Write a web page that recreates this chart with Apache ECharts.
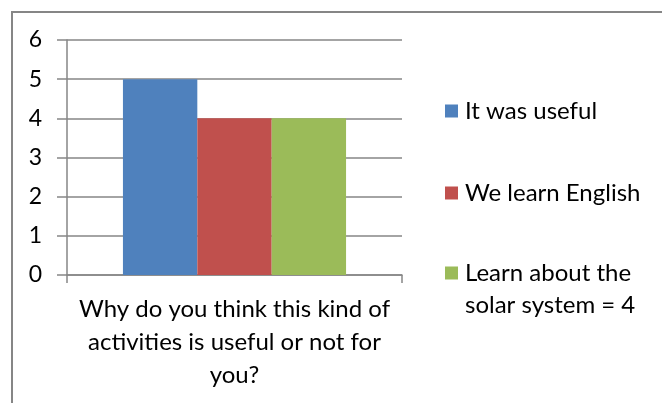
<!DOCTYPE html>
<html><head><meta charset="utf-8">
<script src="https://cdn.jsdelivr.net/npm/echarts@6/dist/echarts.min.js"></script>
<style>html,body{margin:0;padding:0;background:#fff}#c{width:662px;height:403px}</style>
</head><body><div id="c"></div>
<script>
const categories = ["Why do you think this kind of\nactivities is useful or not for\nyou?"];
const seriesNames = ["It was useful", "We learn English", "Learn about the solar system = 4"];
const seriesValues = [[5], [4], [4]];
const yTicks = [0, 1, 2, 3, 4, 5, 6];
const colors = ["#4F81BD", "#C0504D", "#9BBB59"];
const FONT = "Lato";
const chart = echarts.init(document.getElementById('c'));
const legendTops = [95, 177, 225];
const legendFormat = ["{name}", "{name}", "\nLearn about the\nsolar system = 4"];
chart.setOption({
  animation: false,
  backgroundColor: '#fff',
  graphic: [{type: 'rect', shape: {x: 12, y: 12, width: 700, height: 500}, style: {fill: 'none', stroke: '#868686', lineWidth: 2}}],
  grid: {left: 67, right: 260, top: 40, bottom: 128},
  legend: seriesNames.map((n, i) => ({
    data: [n], left: 445, top: legendTops[i], orient: 'vertical', padding: 0,
    itemWidth: 13, itemHeight: 13, icon: 'rect',
    formatter: legendFormat[i],
    textStyle: {fontFamily: FONT, fontSize: 24, color: '#000', lineHeight: 32, padding: [0, 0, 0, 2]}
  })),
  xAxis: {
    type: 'category', data: categories,
    axisLine: {lineStyle: {color: '#868686', width: 1.5}},
    axisTick: {show: true, length: 8, lineStyle: {color: '#868686', width: 1.5}},
    axisLabel: {fontFamily: FONT, fontSize: 24, color: '#000', lineHeight: 33, margin: 18, align: 'center'}
  },
  yAxis: {
    type: 'value', min: 0, max: 6, interval: 1,
    axisLine: {show: true, lineStyle: {color: '#868686', width: 1.5}},
    axisTick: {show: true, length: 10, lineStyle: {color: '#868686', width: 1.5}},
    axisLabel: {fontFamily: FONT, fontSize: 23, color: '#000', margin: 25,
      formatter: v => yTicks.includes(v) ? String(v) : ''},
    splitLine: {lineStyle: {color: '#868686', width: 1.5}}
  },
  series: seriesNames.map((n, i) => ({
    name: n, type: 'bar', data: seriesValues[i],
    itemStyle: {color: colors[i]},
    barGap: '0%', barCategoryGap: '33.4%'
  }))
});
</script></body></html>
